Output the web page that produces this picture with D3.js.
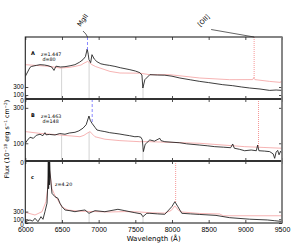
<!DOCTYPE html>
<html>
<head>
<meta charset="utf-8">
<script src="https://cdn.jsdelivr.net/npm/d3@7"></script>
<style>
  body { margin: 0; background: #fff; }
  svg { font-family: "DejaVu Sans", sans-serif; }
  .axis text { font-size: 7px; fill: #000; }
  .axis.yax text { font-size: 6.3px; }
  .axis path, .axis line { stroke: #000; stroke-width: 0.7; }
</style>
</head>
<body>
<svg id="chart" width="299" height="249"></svg>
<script>
// x ticks
const waveTicks = [6000, 6500, 7000, 7500, 8000, 8500, 9000, 9500];
const fluxTicks = [0, 100, 300];

// panel A: spectrum (black) and fit (red)
const waveA = [6000, 6064, 6087, 6150, 6200, 6260, 6309, 6360, 6391, 6418, 6480, 6541, 6610, 6677, 6740, 6786, 6820, 6844, 6858, 6868, 6891, 6909, 6940, 6977, 7030, 7085, 7150, 7222, 7300, 7426, 7500, 7562, 7590, 7603, 7630, 7698, 7800, 7902, 8000, 8107, 8250, 8379, 8500, 8692, 8828, 8950, 9059, 9200, 9332, 9420, 9500];
const fluxA = [565, 790, 815, 840, 858, 850, 833, 800, 715, 820, 800, 808, 830, 858, 920, 983, 1060, 1250, 1120, 983, 908, 1108, 1000, 933, 880, 858, 840, 815, 780, 733, 700, 658, 600, 275, 483, 608, 600, 595, 570, 525, 480, 440, 410, 358, 333, 300, 275, 250, 215, 225, 215];
const fitWaveA = [6000, 6200, 6336, 6473, 6600, 6677, 6760, 6800, 6850, 6880, 6909, 6960, 7017, 7154, 7290, 7562, 7698, 7970, 8379, 8787, 9100, 9114, 9130, 9332, 9480, 9490, 9500];
const fitFluxA = [858, 833, 815, 775, 790, 815, 850, 895, 940, 900, 858, 810, 775, 690, 650, 645, 608, 608, 525, 483, 485, 530, 485, 440, 415, 450, 415];

// panel B
const waveB = [6000, 6030, 6064, 6110, 6150, 6200, 6240, 6268, 6282, 6330, 6405, 6470, 6541, 6600, 6677, 6730, 6786, 6830, 6868, 6885, 6909, 6950, 6977, 7030, 7085, 7150, 7222, 7290, 7358, 7420, 7494, 7540, 7576, 7595, 7610, 7635, 7657, 7698, 7760, 7834, 7850, 7902, 8000, 8107, 8200, 8379, 8480, 8583, 8700, 8800, 8828, 8850, 8920, 8991, 9080, 9150, 9168, 9185, 9260, 9332, 9380, 9400, 9420, 9441, 9460, 9480, 9500];
const fluxB = [100, 118, 134, 128, 145, 151, 143, 160, 148, 150, 147, 155, 151, 158, 162, 170, 185, 205, 254, 230, 213, 190, 175, 170, 166, 160, 156, 152, 147, 143, 137, 138, 134, 120, 53, 95, 103, 119, 112, 128, 115, 109, 106, 103, 97, 90, 86, 81, 78, 75, 96, 72, 66, 58, 62, 58, 90, 58, 56, 53, 40, 15, 50, 60, 35, 55, 43];
const fitWaveB = [6000, 6200, 6473, 6745, 6800, 6840, 6881, 6920, 6950, 7085, 7290, 7562, 7698, 8379, 8991, 9500];
const fitFluxB = [166, 156, 147, 137, 145, 156, 166, 150, 137, 123, 115, 109, 109, 100, 81, 72];

// panel C
const waveC = [6000, 6030, 6064, 6100, 6132, 6173, 6214, 6241, 6268, 6296, 6309, 6314, 6318, 6321, 6323, 6326, 6328, 6332, 6336, 6350, 6364, 6405, 6445, 6473, 6500, 6541, 6609, 6677, 6745, 6814, 6868, 6950, 7085, 7263, 7358, 7494, 7580, 7603, 7657, 7698, 7800, 7902, 7998, 8039, 8080, 8134, 8250, 8379, 8600, 8787, 9059, 9300, 9400, 9500];
const fluxC = [34, 60, 79, 50, 124, 34, 166, 97, 297, 518, 1130, 1800, 900, 1800, 1200, 1750, 1000, 1600, 1395, 1050, 780, 690, 650, 518, 430, 342, 324, 297, 324, 342, 255, 324, 297, 360, 324, 271, 240, 166, 255, 255, 240, 229, 430, 560, 430, 255, 240, 225, 200, 140, 100, 80, 60, 40];
const fitWaveC = [6000, 6132, 6228, 6282, 6309, 6323, 6336, 6364, 6405, 6445, 6500, 6582, 6745, 6950, 7154, 7358, 7562, 7698, 7902, 7990, 8039, 8090, 8134, 8379, 8650, 8700, 9500];
const fitFluxC = [280, 210, 297, 560, 955, 1500, 1300, 900, 720, 600, 420, 340, 310, 300, 290, 300, 290, 270, 260, 330, 450, 330, 290, 250, 237, 190, 190];

const telluric = [6495, 6870, 7605];
const panelNames = ['A', 'B', 'c'];
const panelText = [['z=1.447', 'd=80'], ['z=1.463', 'd=148'], ['z=4.20']];
const fluxMax = [1550, 350, 1630];
const mgii = [6848, 6912, null];
const redLine = [9120, 9180, 8050];

const panels = [
  {wave: waveA, flux: fluxA, fitWave: fitWaveA, fitFlux: fitFluxA},
  {wave: waveB, flux: fluxB, fitWave: fitWaveB, fitFlux: fitFluxB},
  {wave: waveC, flux: fluxC, fitWave: fitWaveC, fitFlux: fitFluxC}
];

const mLeft = 25.3, mRight = 282, mTop = 37, ph = 62;
const svg = d3.select('#chart');

const x = d3.scaleLinear().domain([6000, 9500]).range([mLeft, mRight]);

function interp(ws, fs, w) {
  const i = d3.bisectLeft(ws, w);
  if (i <= 0) return fs[0];
  if (i >= ws.length) return fs[fs.length - 1];
  const t = (w - ws[i - 1]) / (ws[i] - ws[i - 1]);
  return fs[i - 1] + t * (fs[i] - fs[i - 1]);
}

panels.forEach((p, i) => {
  const y0 = mTop + i * ph;
  const y = d3.scaleLinear().domain([0, fluxMax[i]]).range([y0 + ph, y0]);
  const g = svg.append('g');

  svg.append('clipPath').attr('id', 'clip' + i)
    .append('rect').attr('x', mLeft).attr('y', y0).attr('width', mRight - mLeft).attr('height', ph);

  const blackAt = w => interp(p.wave, p.flux, w);
  const redAt = w => interp(p.fitWave, p.fitFlux, w);

  // telluric markers from the bottom up to the spectrum
  g.selectAll('.tell').data(telluric).join('line')
    .attr('x1', d => x(d)).attr('x2', d => x(d))
    .attr('y1', y(0)).attr('y2', d => y(Math.min(blackAt(d), redAt(d))))
    .attr('stroke', '#c8c8c8').attr('stroke-width', 0.8);

  // fit
  g.append('path')
    .datum(d3.zip(p.fitWave, p.fitFlux))
    .attr('clip-path', `url(#clip${i})`)
    .attr('fill', 'none').attr('stroke', '#f4a0a0').attr('stroke-width', 0.8)
    .attr('d', d3.line().x(d => x(d[0])).y(d => y(d[1])));

  // spectrum
  g.append('path')
    .datum(d3.zip(p.wave, p.flux))
    .attr('clip-path', `url(#clip${i})`)
    .attr('fill', 'none').attr('stroke', '#1a1a1a').attr('stroke-width', 0.85)
    .attr('d', d3.line().x(d => x(d[0])).y(d => y(d[1])));

  // MgII dashed
  if (mgii[i]) {
    g.append('line')
      .attr('x1', x(mgii[i])).attr('x2', x(mgii[i]))
      .attr('y1', y0).attr('y2', y(blackAt(mgii[i])))
      .attr('stroke', '#6a6aff').attr('stroke-width', 0.8).attr('stroke-dasharray', '3,2');
  }
  // [OII] / CIV dotted
  g.append('line')
    .attr('x1', x(redLine[i])).attr('x2', x(redLine[i]))
    .attr('y1', y0).attr('y2', y(Math.max(blackAt(redLine[i]), redAt(redLine[i]))))
    .attr('stroke', '#f06a6a').attr('stroke-width', 0.7).attr('stroke-dasharray', '1,1');

  // axes
  g.append('g').attr('class', 'axis').attr('transform', `translate(0,${y0 + ph})`)
    .call(d3.axisBottom(x).tickValues(waveTicks).tickSize(-3).tickPadding(4)
      .tickFormat(i === 2 ? d3.format('d') : ''))
    .call(a => a.select('.domain').remove());
  g.append('g').attr('class', 'axis').attr('transform', `translate(0,${y0})`)
    .call(d3.axisTop(x).tickValues(waveTicks).tickSize(-3).tickFormat(''))
    .call(a => a.select('.domain').remove());
  g.append('g').attr('class', 'axis yax').attr('transform', `translate(${mLeft},0)`)
    .call(d3.axisLeft(y).tickValues(fluxTicks).tickSize(-3).tickPadding(1.5))
    .call(a => a.select('.domain').remove())
    .call(a => a.selectAll('text').attr('dy', d => d === 0 ? '0.5em' : '0.3em'));
  g.append('g').attr('class', 'axis').attr('transform', `translate(${mRight},0)`)
    .call(d3.axisRight(y).tickValues(fluxTicks).tickSize(-3).tickFormat(''))
    .call(a => a.select('.domain').remove());

  g.append('rect')
    .attr('x', mLeft).attr('y', y0).attr('width', mRight - mLeft).attr('height', ph)
    .attr('fill', 'none').attr('stroke', '#222').attr('stroke-width', 1.1);

  // panel label and text
  g.append('text').attr('x', 31).attr('y', y0 + 17.5)
    .attr('font-size', 5).attr('font-weight', 'bold').text(panelNames[i]);
  panelText[i].forEach((t, k) => {
    g.append('text').attr('x', i === 2 ? 55 : 41 + k * 1.5).attr('y', y0 + (i === 2 ? 24.5 : 19) + k * 4.5)
      .attr('font-size', 4.8).text(t);
  });
});

// frame separators a bit heavier
[1, 2].forEach(k => {
  svg.append('line').attr('x1', mLeft).attr('x2', mRight)
    .attr('y1', mTop + k * ph).attr('y2', mTop + k * ph)
    .attr('stroke', '#333').attr('stroke-width', 1.8);
});
svg.append('line').attr('x1', mRight).attr('x2', mRight)
  .attr('y1', mTop).attr('y2', mTop + 3 * ph)
  .attr('stroke', '#888').attr('stroke-width', 1.6);

// line identifications
const xm = x(mgii[0]);
svg.append('path')
  .attr('d', `M${xm - 4.5},${mTop - 6} Q${xm - 1},${mTop - 3} ${xm},${mTop}`)
  .attr('fill', 'none').attr('stroke', '#222').attr('stroke-width', 0.7);
svg.append('text')
  .attr('transform', `translate(${xm - 7},${mTop - 10}) rotate(-55)`)
  .attr('font-size', 6.5).text('MgII');

const xo = x(redLine[0]);
svg.append('line')
  .attr('x1', xo - 43).attr('y1', mTop - 7.5).attr('x2', xo).attr('y2', mTop)
  .attr('stroke', '#222').attr('stroke-width', 0.7);
svg.append('text')
  .attr('transform', `translate(${xo - 54},${mTop - 10}) rotate(-45)`)
  .attr('font-size', 6.5).text('[OII]');

// axis titles
svg.append('text')
  .attr('x', (mLeft + mRight) / 2).attr('y', 241)
  .attr('text-anchor', 'middle').attr('font-size', 7)
  .text('Wavelength (Å)');

const yl = svg.append('text')
  .attr('transform', `translate(9,139) rotate(-90)`)
  .attr('text-anchor', 'middle').attr('font-size', 6.3);
yl.append('tspan').text('Flux (10');
yl.append('tspan').attr('dy', -2.5).attr('font-size', 4.2).text('−18');
yl.append('tspan').attr('dy', 2.5).text(' erg s');
yl.append('tspan').attr('dy', -2.5).attr('font-size', 4.2).text('−1');
yl.append('tspan').attr('dy', 2.5).text(' cm');
yl.append('tspan').attr('dy', -2.5).attr('font-size', 4.2).text('−2');
yl.append('tspan').attr('dy', 2.5).text(')');
</script>
</body>
</html>
